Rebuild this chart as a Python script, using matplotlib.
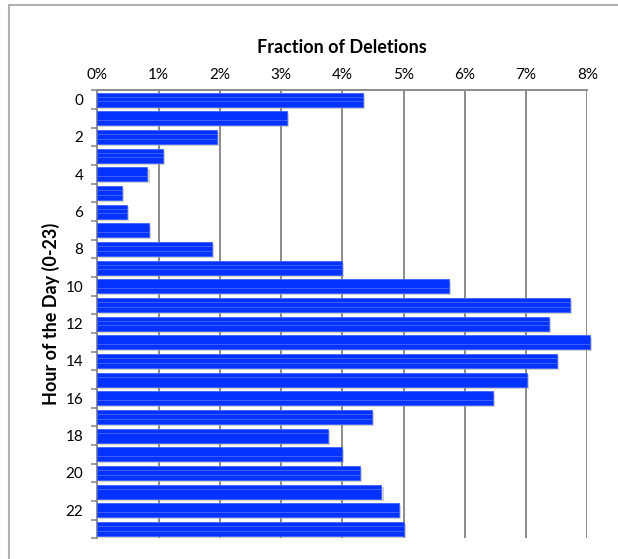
import numpy as np
import matplotlib.pyplot as plt
import matplotlib.patheffects as pe
from matplotlib.lines import Line2D

# -------- DATOS --------
horas = np.arange(24)
fraccion = [4.34, 3.10, 1.95, 1.07, 0.82, 0.41, 0.49, 0.85, 1.87, 4.00,
            5.74, 7.72, 7.37, 8.04, 7.51, 7.01, 6.46, 4.48, 3.77, 4.00,
            4.29, 4.64, 4.92, 5.00]
ticks_x = np.arange(0, 9)
ticks_y = np.arange(0, 24, 2)

plt.rcParams['font.family'] = ['Lato', 'DejaVu Sans']

fig = plt.figure(figsize=(6.18, 5.59), dpi=100)
ax = fig.add_axes([0.1574, 0.0370, 0.7929, 0.8015])

# barras con sombra y franjas claras
barras = ax.barh(horas, fraccion, height=0.76, color='#0433FF',
                 edgecolor='#3D62FF', linewidth=0.6, zorder=3, clip_on=False)
for b in barras:
    b.set_path_effects([pe.SimplePatchShadow(offset=(1.5, -1.5), shadow_rgbFace='#999999', alpha=0.45),
                        pe.Normal()])
for off in (-0.12, 0.12):
    ax.barh(horas + off, fraccion, height=0.04, color='#3B5FFF', linewidth=0,
            zorder=4, clip_on=False)

ax.set_xlim(0, 8)
ax.set_ylim(23.5, -0.5)

ax.xaxis.tick_top()
ax.set_xticks(ticks_x)
ax.set_xticklabels([f'{t}%' for t in ticks_x], fontsize=11)
ax.tick_params(axis='x', length=0, pad=6)
ax.grid(axis='x', color='#8C8C8C', linewidth=1.4, zorder=1)

ax.set_yticks(ticks_y)
ax.set_yticklabels([str(t) for t in ticks_y], fontsize=11)
ax.set_yticks(np.arange(-0.5, 24, 1), minor=True)
ax.tick_params(axis='y', which='major', length=0, pad=10)
ax.tick_params(axis='y', which='minor', length=4, width=1.2, color='#8C8C8C')

for s in ('right', 'bottom'):
    ax.spines[s].set_visible(False)
for s in ('top', 'left'):
    ax.spines[s].set_color('#8C8C8C')
    ax.spines[s].set_linewidth(1.4)

ax.set_title('Fraction of Deletions', fontsize=13, fontweight='bold', pad=27)
ax.set_ylabel('Hour of the Day (0-23)', fontsize=13, fontweight='bold', labelpad=4)

# marco exterior
fig.add_artist(Line2D([9 / 618, 9 / 618], [0, 1 - 5 / 559], color='#B0B0B0', linewidth=1.5))
fig.add_artist(Line2D([9 / 618, 1], [1 - 5 / 559, 1 - 5 / 559], color='#B0B0B0', linewidth=1.5))

plt.savefig('out.png', dpi=100)
